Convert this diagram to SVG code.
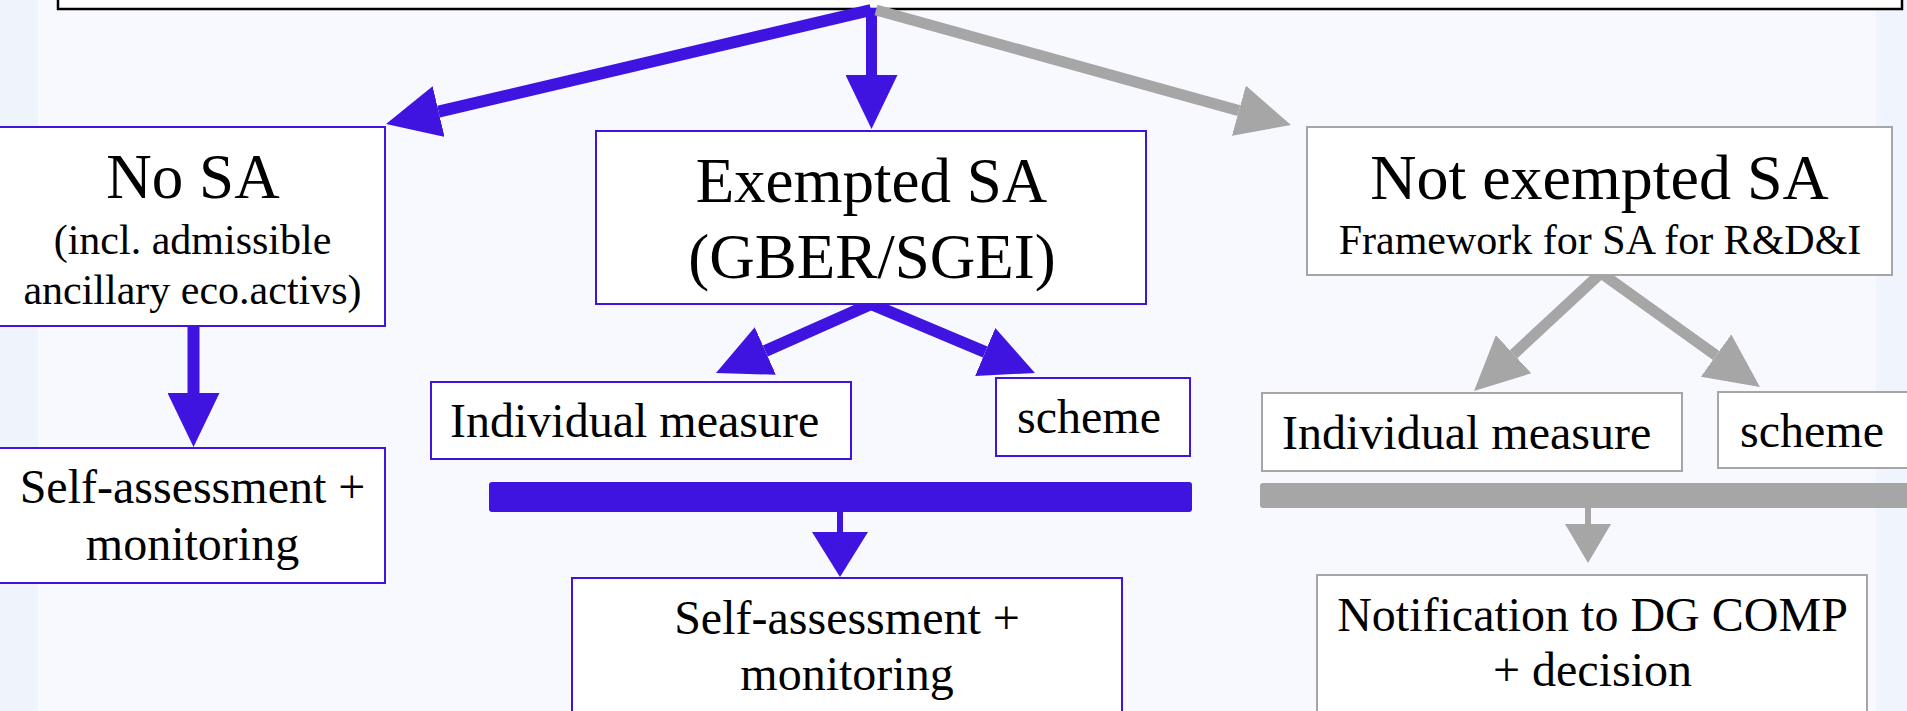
<svg xmlns="http://www.w3.org/2000/svg" width="1907" height="711" viewBox="0 0 1907 711">
<style>
text{font-family:"Liberation Serif","Times New Roman",serif;fill:#000}
.bb{fill:#fff;stroke:#3f14e0;stroke-width:2}
.gb{fill:#fff;stroke:#a6a6a6;stroke-width:2}
.bl{stroke:#3f14e0;fill:none}
.gl{stroke:#a6a6a6;fill:none}
.c{text-anchor:middle}
.f63{font-size:63px}.f42{font-size:42px}.f48{font-size:48px}
</style>
<defs>
<marker id="hb" viewBox="0 0 54 52" refX="0" refY="26" markerWidth="54" markerHeight="52" markerUnits="userSpaceOnUse" orient="auto"><path d="M0,0 L54,26 L0,52 z" fill="#3f14e0"/></marker>
<marker id="hg" viewBox="0 0 54 52" refX="0" refY="26" markerWidth="54" markerHeight="52" markerUnits="userSpaceOnUse" orient="auto"><path d="M0,0 L54,26 L0,52 z" fill="#a6a6a6"/></marker>
<marker id="sb" viewBox="0 0 45 56" refX="0" refY="28" markerWidth="45" markerHeight="56" markerUnits="userSpaceOnUse" orient="auto"><path d="M0,0 L45,28 L0,56 z" fill="#3f14e0"/></marker>
<marker id="sg" viewBox="0 0 39 46" refX="0" refY="23" markerWidth="39" markerHeight="46" markerUnits="userSpaceOnUse" orient="auto"><path d="M0,0 L39,23 L0,46 z" fill="#a6a6a6"/></marker>
</defs>
<rect x="0" y="0" width="1907" height="711" fill="#f7f9fe"/>
<rect x="0" y="0" width="38" height="711" fill="#eff3fc"/>
<rect x="1876" y="0" width="31" height="711" fill="#f0f4fd"/>

<g id="top"><rect x="58" y="-10" width="1844" height="19" fill="#fff" stroke="#000" stroke-width="2.5"/></g>

<g id="connectors">
<line class="bl" x1="871" y1="10" x2="438.6" y2="111.6" stroke-width="12" marker-end="url(#hb)"/>
<line class="bl" x1="871.5" y1="8" x2="871.5" y2="75" stroke-width="11" marker-end="url(#hb)"/>
<line class="gl" x1="876" y1="10" x2="1238.9" y2="110.6" stroke-width="11" marker-end="url(#hg)"/>
<line class="bl" x1="193.5" y1="327" x2="193.5" y2="393" stroke-width="12" marker-end="url(#hb)"/>
<line class="bl" x1="871" y1="304" x2="765.3" y2="351" stroke-width="12" marker-end="url(#hb)"/>
<line class="bl" x1="871" y1="304" x2="985.2" y2="352" stroke-width="12" marker-end="url(#hb)"/>
<line class="gl" x1="1601" y1="273" x2="1513.6" y2="354.2" stroke-width="11" marker-end="url(#hg)"/>
<line class="gl" x1="1601" y1="273" x2="1716.1" y2="355.5" stroke-width="11" marker-end="url(#hg)"/>
<rect x="489" y="482" width="703" height="30" rx="3" fill="#3f14e0"/>
<line class="bl" x1="840" y1="511" x2="840" y2="532" stroke-width="6" marker-end="url(#sb)"/>
<rect x="1260" y="483" width="660" height="25" rx="3" fill="#a6a6a6"/>
<line class="gl" x1="1588" y1="507" x2="1588" y2="524" stroke-width="6" marker-end="url(#sg)"/>
</g>

<g id="nosa"><rect class="bb" x="-1" y="127" width="386" height="199"/>
<text class="c f63" x="193" y="198">No SA</text>
<text class="c f42" x="192.5" y="254">(incl. admissible</text>
<text class="c f42" x="192.5" y="304">ancillary eco.activs)</text></g>

<g id="selfassess1"><rect class="bb" x="-1" y="448" width="386" height="135"/>
<text class="c f48" x="192.5" y="503">Self-assessment +</text>
<text class="c f48" x="192.5" y="560">monitoring</text></g>

<g id="exempted"><rect class="bb" x="596" y="131" width="550" height="173"/>
<text class="c f63" x="871.5" y="202">Exempted SA</text>
<text class="c f63" x="872" y="278">(GBER/SGEI)</text></g>

<g id="ind1"><rect class="bb" x="431" y="382" width="420" height="77"/>
<text class="f48" x="450" y="437">Individual measure</text></g>

<g id="scheme1"><rect class="bb" x="996" y="378" width="194" height="78"/>
<text class="f48" x="1017" y="433">scheme</text></g>

<g id="selfassess2"><rect class="bb" x="572" y="578" width="550" height="150"/>
<text class="c f48" x="847" y="634">Self-assessment +</text>
<text class="c f48" x="847" y="690">monitoring</text></g>

<g id="notexempted"><rect class="gb" x="1307" y="127" width="585" height="148"/>
<text class="c" x="1599.5" y="199" font-size="64">Not exempted SA</text>
<text class="c f42" x="1600" y="254">Framework for SA for R&amp;D&amp;I</text></g>

<g id="ind2"><rect class="gb" x="1262" y="393" width="420" height="78"/>
<text class="f48" x="1282" y="449">Individual measure</text></g>

<g id="scheme2"><rect class="gb" x="1718" y="392" width="220" height="76"/>
<text class="f48" x="1740" y="447">scheme</text></g>

<g id="notification"><rect class="gb" x="1317" y="575" width="550" height="160"/>
<text class="c f48" x="1592.5" y="631">Notification to DG COMP</text>
<text class="c f48" x="1592.5" y="686">+ decision</text></g>
</svg>
